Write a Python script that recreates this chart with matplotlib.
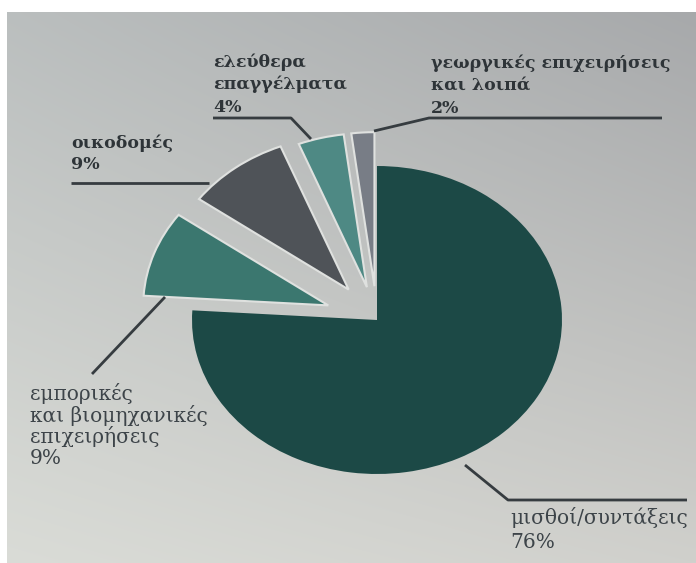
import numpy as np
import matplotlib
matplotlib.use("Agg")
import matplotlib.pyplot as plt
from matplotlib.lines import Line2D

W, H, DPI = 696, 563, 100

# Income sources and their shares (%)
categories = [
    "μισθοί/συντάξεις",
    "εμπορικές\nκαι βιομηχανικές\nεπιχειρήσεις",
    "οικοδομές",
    "ελεύθερα\nεπαγγέλματα",
    "γεωργικές επιχειρήσεις\nκαι λοιπά",
]
shares = [76, 9, 9, 4, 2]

colors = ["#1c4946", "#3b776f", "#4f5358", "#4e8984", "#787d86"]
explode = [0, 0.28, 0.25, 0.22, 0.22]

# Label layout in pixels from the top-left corner: left x, first baseline, line step, bold
label_layout = [
    (510, 524, 23.5, False),
    (30, 400, 21.5, False),
    (71, 148, 21.0, True),
    (213, 67, 22.5, True),
    (431, 68, 22.5, True),
]
# Leader lines in pixels
leader_paths = [
    [(465, 465), (508, 500), (687, 500)],
    [(165, 297), (92, 374)],
    [(71, 183), (209, 183)],
    [(213, 118), (291, 118), (311, 139)],
    [(374, 131), (429, 118), (662, 118)],
]

# Pie geometry (pixels): centre and the two radii of the slightly stretched disc
CX, CY, RX, RY = 377, 320, 185, 154

fig = plt.figure(figsize=(W / DPI, H / DPI), dpi=DPI)

# Paper-like background with a soft gradient
bg = fig.add_axes([0, 0, 1, 1], zorder=0)
yy, xx = np.mgrid[0:1:H * 1j, 0:1:W * 1j]
tl = np.array([186, 190, 190]) / 255
tr = np.array([166, 168, 170]) / 255
bl = np.array([218, 220, 215]) / 255
br = np.array([208, 208, 204]) / 255
img = ((1 - yy)[..., None] * ((1 - xx)[..., None] * tl + xx[..., None] * tr)
       + yy[..., None] * ((1 - xx)[..., None] * bl + xx[..., None] * br))
img[:12, :] = 1.0
img[:, :7] = 1.0
bg.imshow(img, aspect="auto", interpolation="bilinear")
bg.axis("off")

# Pie
ax = fig.add_axes([0, 0, 1, 1], zorder=1)
wedges, _ = ax.pie(
    shares,
    colors=colors,
    explode=explode,
    startangle=90,
    counterclock=False,
    radius=1.0,
    center=(0, 0),
    wedgeprops=dict(linewidth=0),
)
for w in wedges[1:]:
    w.set_edgecolor("#dfe1df")
    w.set_linewidth(1.5)
ax.set_aspect("auto")
ax.set_xlim(-CX / RX, (W - CX) / RX)
ax.set_ylim(-(H - CY) / RY, CY / RY)
ax.axis("off")


def fx(x):
    return x / W


def fy(y):
    return 1 - y / H


line_color = "#363c40"
for path in leader_paths:
    xs = [fx(p[0]) for p in path]
    ys = [fy(p[1]) for p in path]
    fig.add_artist(Line2D(xs, ys, color=line_color, linewidth=2.0,
                          solid_capstyle="butt", zorder=3))

for name, share, (x0, y0, step, bold) in zip(categories, shares, label_layout):
    lines = name.split("\n") + [f"{share}%"]
    for i, txt in enumerate(lines):
        fig.text(fx(x0), fy(y0 + i * step), txt,
                 ha="left", va="baseline",
                 family=["DejaVu Serif"],
                 fontsize=12.5 if bold else 14.5,
                 fontweight="bold" if bold else "normal",
                 color="#2e3438" if bold else "#3d4449",
                 zorder=4)

fig.savefig("out.png", dpi=DPI)
